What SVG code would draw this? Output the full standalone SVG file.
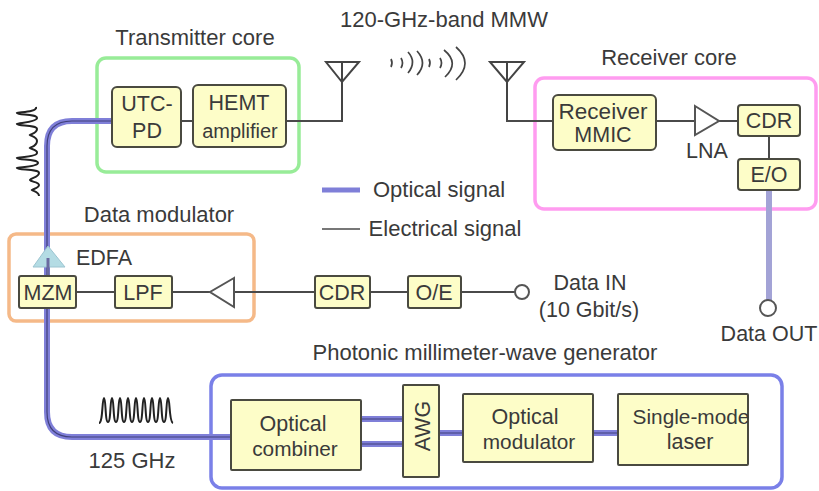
<svg xmlns="http://www.w3.org/2000/svg" width="819" height="491" viewBox="0 0 819 491">
<style>
text{font-family:"Liberation Sans",Arial,sans-serif;font-size:21.5px;fill:#3a3a3a;text-anchor:middle}
#labels text{font-size:22px}
.b{fill:#fdfdc8;stroke:#4a4a40;stroke-width:2}
.g{fill:none;stroke-width:3.5}
.e{fill:none;stroke:#4a4a4a;stroke-width:2}
.o{fill:none;stroke:#7f7fd8;stroke-width:6}
.oc{fill:none;stroke:#40407a;stroke-width:1.2}
.t{fill:#fff;stroke:#555;stroke-width:2}
.w{fill:none;stroke:#444;stroke-width:2}
.p{fill:none;stroke:#222;stroke-width:2}
.s{font-size:20.8px}
</style>
<g id="groups">
<rect id="tx-core" class="g" x="97" y="58" width="202" height="114" rx="9" stroke="#98ec98"/>
<rect id="rx-core" class="g" x="535" y="78" width="281" height="131" rx="9" stroke="#ff9cf0"/>
<rect id="modulator" class="g" x="9" y="234" width="245" height="87" rx="7" stroke="#f5b988"/>
<rect id="generator" class="g" x="211" y="375" width="571" height="113" rx="11" stroke="#7a80e8"/>
</g>
<g id="connectors">
<path class="o" d="M112 121H72Q47 121 47 146V412Q47 437 72 437H231"/>
<path class="oc" d="M112 121H72Q47 121 47 146V412Q47 437 72 437H231"/>
<path class="o" d="M361 419H403M361 444H403M439 433H463M593 433H618" />
<path class="oc" d="M361 419H403M361 444H403M439 433H463M593 433H618"/>
<path d="M769 190V300" fill="none" stroke="#a3a3d6" stroke-width="6"/>
<path class="e" d="M181 121H193M286 121H342V82M507 82V121H553M656 121H695M719 121H738M769 136V159M76 292H115M172 292H210M234 292H315M370 292H408M461 292H515"/>
<path d="M322 190H360" stroke="#7f7fd8" stroke-width="5" fill="none"/>
<path d="M322 229H360" stroke="#777" stroke-width="2" fill="none"/>
</g>
<g id="edfa"><path d="M48 246L65 267H33Z" fill="#b4dce4" stroke="#9cc4d0" stroke-width="1"/><path d="M48 258V276" stroke="#6a6aa0" stroke-width="3"/><text x="104" y="265">EDFA</text></g>
<g id="utc-pd"><rect class="b" x="112" y="87" width="69" height="60" rx="5"/><text x="147" y="111">UTC-</text><text x="147" y="138">PD</text></g>
<g id="hemt"><rect class="b" x="193" y="85" width="93" height="62" rx="5"/><text x="239" y="110">HEMT</text><text x="240" y="138" style="font-size:20px">amplifier</text></g>
<g id="tx-antenna"><path class="w" d="M326 62H359L342 82ZM342 62V120"/></g>
<g id="rx-antenna"><path class="w" d="M490 62H524L507 82ZM507 62V120"/></g>
<g id="waves" fill="none" stroke="#444" stroke-width="1.7">
<path d="M391 59Q393 63 391 67M401 58Q404 63 401 68M408 52Q417 62 408 73M417 51Q428 63 417 75M429 59Q431 63 429 67M440 58Q443 63 440 68M444 50Q460 63 445 77M456 47Q474 63 456 80"/>
</g>
<g id="receiver-mmic"><rect class="b" x="553" y="95" width="103" height="55" rx="5"/><text x="603" y="119" style="font-size:22.5px">Receiver</text><text x="603" y="142">MMIC</text></g>
<g id="lna"><path class="t" d="M695 106L719 121L695 135Z"/><text x="707" y="158">LNA</text></g>
<g id="cdr-rx"><rect class="b" x="738" y="105" width="62" height="31" rx="3"/><text x="769" y="128">CDR</text></g>
<g id="eo"><rect class="b" x="738" y="159" width="62" height="31" rx="3"/><text x="769" y="182">E/O</text></g>
<g id="mzm"><rect class="b" x="19" y="276" width="57" height="32" rx="2"/><text x="48" y="300">MZM</text></g>
<g id="lpf"><rect class="b" x="115" y="276" width="57" height="32" rx="2"/><text x="143" y="300">LPF</text></g>
<g id="driver"><path class="t" d="M234 278L210 292L234 307Z"/></g>
<g id="cdr-in"><rect class="b" x="315" y="276" width="55" height="32" rx="2"/><text x="342" y="300">CDR</text></g>
<g id="oe"><rect class="b" x="408" y="276" width="53" height="32" rx="2"/><text x="434" y="300">O/E</text></g>
<g id="data-in"><circle class="t" cx="522" cy="292" r="7"/><text x="590" y="290">Data IN</text><text x="589" y="317">(10 Gbit/s)</text></g>
<g id="data-out"><circle class="t" cx="768" cy="308" r="8"/><text x="769" y="341">Data OUT</text></g>
<g id="combiner"><rect class="b" x="231" y="400" width="130" height="70" rx="1"/><text x="293" y="431">Optical</text><text class="s" x="295" y="456">combiner</text></g>
<g id="awg"><rect class="b" x="403" y="385" width="36" height="92" rx="1"/><text transform="translate(430 426) rotate(-90)">AWG</text></g>
<g id="opt-mod"><rect class="b" x="463" y="394" width="130" height="68" rx="1"/><text x="525" y="424">Optical</text><text class="s" x="529" y="449">modulator</text></g>
<g id="laser"><rect class="b" x="618" y="394" width="130" height="71" rx="1"/><text class="s" x="691" y="424">Single-mode</text><text x="690" y="449">laser</text></g>
<g id="trains">
<path class="p" d="M99 423C103 423 102 398 104 398C106 398 105 422 108 422C111 422 110 398 112 398C114 398 113 422 116 422C119 422 118 398 120 398C122 398 121 422 124 422C127 422 126 398 128 398C130 398 129 422 132 422C135 422 134 398 136 398C138 398 137 422 140 422C143 422 142 398 144 398C146 398 145 422 148 422C151 422 150 398 152 398C154 398 153 422 156 422C159 422 158 398 160 398C162 398 161 422 164 422C167 422 166 398 168 398C170 398 169 422 173 423"/>
<path class="p" d="M36 107C38 112 18 112 17 113C18 115 37 114 37 118C37 122 18 123 17 124C18 126 37 125 37 129C37 133 31 134 30 135C31 136 37 137 37 141C37 146 31 147 30 148C31 149 38 150 37 153C37 157 18 157 17 158C18 160 38 159 38 163C38 167 18 167 17 168C18 170 39 169 39 173C39 177 31 178 30 180C31 182 39 182 39 185C39 188 33 189 32 190C33 191 39 192 39 196"/>
</g>
<g id="labels">
<text x="195" y="45">Transmitter core</text>
<text x="444" y="27">120-GHz-band MMW</text>
<text x="669" y="65">Receiver core</text>
<text x="159" y="222">Data modulator</text>
<text x="439" y="197">Optical signal</text>
<text x="445" y="236">Electrical signal</text>
<text x="485" y="360">Photonic millimeter-wave generator</text>
<text x="132" y="468">125 GHz</text>
</g>
</svg>
